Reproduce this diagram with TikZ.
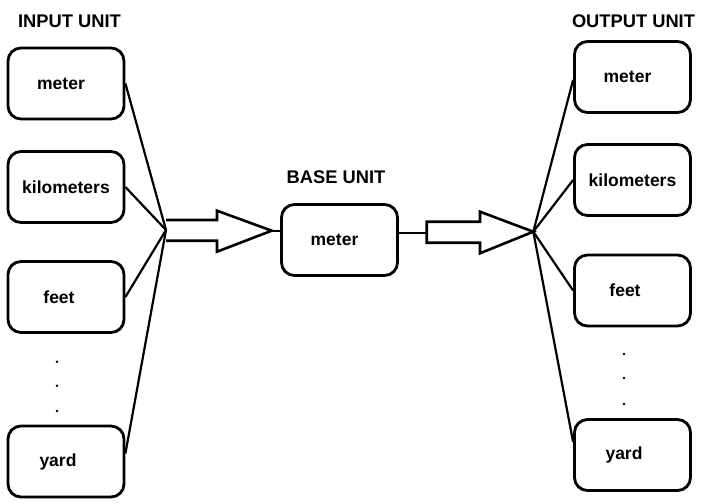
\documentclass[tikz,border=0pt]{standalone}
\usepackage{fontspec}
\setmainfont{Liberation Sans}
\usetikzlibrary{calc,positioning}
\tikzset{%
	unitbox/.style  = {draw, rectangle, rounded corners=13pt, line width=2.8pt, minimum width=116pt, minimum height=71pt, text centered, font=\bfseries\fontsize{17.5}{20}\selectfont},
	title/.style    = {font=\bfseries\fontsize{18.3}{20}\selectfont},
	link/.style     = {line width=2.2pt},
	blockarrow/.style = {line width=2.6pt, line join=miter},
}
\newcommand{\lpad}{\hspace*{10pt}}

\begin{document}
\begin{tikzpicture}[x=1pt,y=-1pt]
		\useasboundingbox (0,0) rectangle (703,503);
		% input side
		\node[title] (intitle) at (69.5,21.5) {INPUT UNIT};
		\node[unitbox] (in1) at (66,83.5) {meter\lpad};
		\node[unitbox] (in2) at (66,187) {kilometers};
		\node[unitbox] (in3) at (66,297) {feet\lpad\hspace*{4pt}};
		\node[unitbox] (in4) at (66,461.5) {yard\lpad\hspace*{6pt}};
		\foreach \y in {361.7,385.7,411} \fill (57,\y) circle (1.4);
		\coordinate (jl) at (166,230);
		\draw[link] (in1.east) -- (jl);
		\draw[link] (in2.east) -- (jl);
		\draw[link] (in3.east) -- (jl);
		\draw[link] ([yshift=8pt]in4.east) -- (jl);
		
		% base unit
		\node[title] (basetitle) at (336,177) {BASE UNIT};
		\node[unitbox] (base) at (339.5,240) {meter\lpad};
		\draw[blockarrow] (166,220) -- (217,220) -- (217,210.7) -- (271.7,230.7) coordinate (tipl) -- (217,251.7) -- (217,240.7) -- (166,240.7);
		\draw[link] (tipl) -- (tipl -| base.west);
		\draw[link] ([yshift=7pt]base.east) -- (426.7,233) coordinate (tailr);
		\draw[blockarrow] (426.7,221.7) -- (480,221.7) -- (480,211.7) -- (533.3,231.7) coordinate (jr) -- (480,253.3) -- (480,242.7) -- (426.7,242.7) -- cycle;
		
		% output side
		\node[title] (outtitle) at (633.5,21.5) {OUTPUT UNIT};
		\node[unitbox] (out1) at (632.5,77) {meter\lpad};
		\node[unitbox] (out2) at (632.5,180) {kilometers};
		\node[unitbox] (out3) at (632.5,290.5) {feet\lpad\hspace*{5pt}};
		\node[unitbox] (out4) at (632.5,455) {yard\lpad\hspace*{7pt}};
		\foreach \y in {354,378,404} \fill (624,\y) circle (1.4);
		\draw[link] (jr) -- ([yshift=-3pt]out1.west);
		\draw[link] (jr) -- (out2.west);
		\draw[link] (jr) -- (out3.west);
		\draw[link] (jr) -- ([yshift=13pt]out4.west);
\end{tikzpicture}
\end{document}
